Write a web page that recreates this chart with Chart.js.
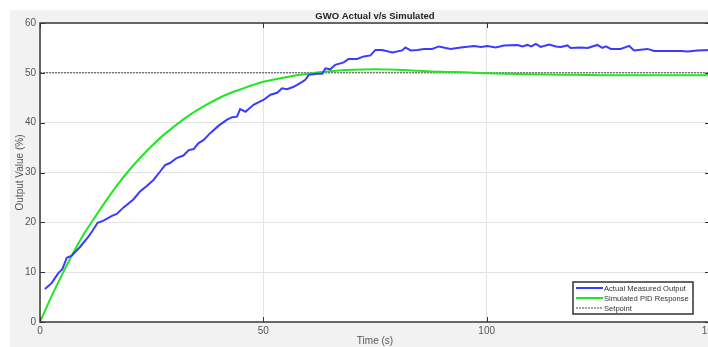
<!DOCTYPE html>
<html>
<head>
<meta charset="utf-8">
<script src="https://cdn.jsdelivr.net/npm/chart.js@4.4.1/dist/chart.umd.min.js"></script>
<style>
  html, body { margin: 0; padding: 0; background: #fff; overflow: hidden; }
  #wrap { position: relative; width: 710px; height: 347px; }
</style>
</head>
<body>
<div id="wrap"><canvas id="myChart"></canvas></div>
<script>
// valores
const tiempoReal = [1.1,2.6,4.1,5.0,6.0,7.1,9.0,10.8,11.9,12.9,
  14.1,16.1,17.2,18.7,20.9,22.4,23.9,25.4,26.9,28.0,
  29.1,30.6,32.1,33.3,34.4,35.5,36.6,38.1,40.0,41.9,
  43.0,44.1,44.8,46.0,47.8,50.1,51.6,53.1,54.2,55.3,
  56.8,58.7,59.4,60.2,62.0,63.2,63.9,65.0,66.1,68.0,
  69.1,71.0,72.5,74.0,75.1,76.6,78.9,81.1,81.8,83.0,
  84.5,86.0,87.8,89.3,91.9,94.2,97.2,98.7,100.2,102.0,
  103.9,106.9,108.0,109.1,110.0,111.0,112.1,114.0,115.5,116.6,
  118.1,118.8,121.1,122.6,124.8,125.9,126.7,127.8,130.0,131.9,
  133.0,136.0,137.5,140.5,143.5,145.0,147.2,150];
const salidaReal = [6.6,7.8,9.8,10.6,12.9,13.3,15.1,17.1,18.5,19.9,
  20.3,21.3,21.7,23.0,24.6,26.2,27.3,28.5,30.2,31.5,
  31.9,32.9,33.4,34.5,34.7,35.9,36.5,37.9,39.4,40.6,
  41.1,41.2,42.7,42.2,43.6,44.6,45.6,46.0,46.9,46.7,
  47.2,48.2,48.6,49.6,49.8,49.8,50.9,50.7,51.6,52.1,
  52.8,52.8,53.3,53.5,54.6,54.6,54.1,54.5,55.1,54.5,
  54.6,54.8,54.8,55.3,54.8,55.1,55.4,55.2,55.4,55.1,
  55.5,55.6,55.3,55.6,55.3,55.8,55.2,55.7,55.3,55.2,
  55.5,55.0,55.1,55.0,55.6,55.0,55.3,54.8,54.8,55.4,
  54.5,54.8,54.4,54.4,54.4,54.3,54.5,54.6];

const tiempoSim = [0,2.5,5,7.5,10,12.5,15,17.5,20,22.5,25,27.5,30,32.5,35,37.5,40,42.5,45,47.5,50,55,60,65,70,75,80,85,90,95,100,110,120,130,140,150];
const salidaSim = [0,5.0,9.6,14.0,17.9,21.3,24.6,27.7,30.5,33.0,35.3,37.4,39.2,40.9,42.4,43.7,44.9,45.9,46.7,47.5,48.2,49.1,49.8,50.3,50.6,50.7,50.6,50.4,50.2,50.1,49.9,49.7,49.6,49.5,49.5,49.5];

const tiempoSetpoint = [0, 150];
const setpoint = [50, 50];

const etiquetas = ['Actual Measured Output', 'Simulated PID Response', 'Setpoint'];
const tituloGrafico = 'GWO Actual v/s Simulated';

function pares(xs, ys) {
  return xs.map((x, i) => ({ x: x, y: ys[i] }));
}

// fondo gris, borde del area, marcas, titulo y leyenda
const decoracion = {
  id: 'decoracion',
  beforeDraw(chart) {
    const c = chart.ctx, a = chart.chartArea;
    c.save();
    c.fillStyle = '#fff';
    c.fillRect(0, 0, chart.width, chart.height);
    c.fillStyle = '#f2f2f2';
    c.fillRect(10, 10, chart.width - 10, chart.height - 10);
    c.fillStyle = '#fff';
    c.fillRect(a.left, a.top, a.right - a.left, a.bottom - a.top);
    c.restore();
  },
  afterDraw(chart) {
    const c = chart.ctx, a = chart.chartArea;
    const xs = chart.scales.x, ys = chart.scales.y;
    c.save();
    c.strokeStyle = '#333';
    c.lineWidth = 1;
    c.beginPath();
    xs.ticks.forEach(t => {
      const px = Math.round(xs.getPixelForValue(t.value)) + 0.5;
      c.moveTo(px, a.bottom); c.lineTo(px, a.bottom - 5);
      c.moveTo(px, a.top); c.lineTo(px, a.top + 5);
    });
    ys.ticks.forEach(t => {
      const py = Math.round(ys.getPixelForValue(t.value)) + 0.5;
      c.moveTo(a.left, py); c.lineTo(a.left + 5, py);
      c.moveTo(a.right, py); c.lineTo(a.right - 5, py);
    });
    c.stroke();
    c.lineWidth = 1.5;
    c.strokeStyle = '#3a3a3a';
    c.strokeRect(a.left, a.top, a.right - a.left, a.bottom - a.top);

    c.fillStyle = '#222';
    c.font = 'bold 9.5px "Liberation Sans", Arial, sans-serif';
    c.textAlign = 'center';
    c.textBaseline = 'middle';
    c.fillText(tituloGrafico, (a.left + a.right) / 2, 16);

    // leyenda dentro del area
    const lx = 573, ly = 282, lw = 120, lh = 32;
    c.fillStyle = '#fff';
    c.fillRect(lx, ly, lw, lh);
    c.strokeStyle = '#333';
    c.lineWidth = 1.5;
    c.strokeRect(lx, ly, lw, lh);
    c.font = '7.6px "Liberation Sans", Arial, sans-serif';
    c.textAlign = 'left';
    chart.data.datasets.forEach((ds, i) => {
      const yy = ly + 6 + i * 10;
      c.strokeStyle = ds.borderColor;
      c.lineWidth = ds.borderDash ? 1 : 2;
      c.setLineDash(ds.borderDash || []);
      c.beginPath();
      c.moveTo(lx + 3, yy); c.lineTo(lx + 30, yy);
      c.stroke();
      c.setLineDash([]);
      c.fillStyle = '#333';
      c.fillText(ds.label, lx + 31, yy + 0.5);
    });
    c.restore();
  }
};

const ctx = document.getElementById('myChart').getContext('2d');
const myChart = new Chart(ctx, {
  type: 'line',
  data: {
    datasets: [{
      label: etiquetas[0],
      data: pares(tiempoReal, salidaReal),
      borderColor: '#3b3bff',
      borderWidth: 2,
      pointRadius: 0,
      tension: 0
    }, {
      label: etiquetas[1],
      data: pares(tiempoSim, salidaSim),
      borderColor: '#22e622',
      borderWidth: 2,
      pointRadius: 0,
      cubicInterpolationMode: 'monotone'
    }, {
      label: etiquetas[2],
      data: pares(tiempoSetpoint, setpoint),
      borderColor: '#444',
      borderWidth: 1,
      borderDash: [2, 1],
      pointRadius: 0
    }]
  },
  options: {
    responsive: true,
    maintainAspectRatio: false,
    animation: false,
    layout: { padding: { left: 10, top: 23, right: 0, bottom: 0 } },
    plugins: {
      legend: { display: false },
      title: { display: false },
      tooltip: { enabled: false }
    },
    scales: {
      x: {
        type: 'linear',
        min: 0,
        max: 150,
        ticks: { stepSize: 50, color: '#555', padding: 3, font: { size: 10, family: '"Liberation Sans", Arial, sans-serif' } },
        grid: { color: '#e4e4e4', drawTicks: false },
        border: { display: false },
        title: { display: true, text: 'Time (s)', color: '#555', padding: { top: 0, bottom: 0 }, font: { size: 10, family: '"Liberation Sans", Arial, sans-serif' } },
        afterFit(scale) { scale.height = 25; scale.paddingRight = 0; scale.paddingLeft = 0; }
      },
      y: {
        min: 0,
        max: 60,
        ticks: { stepSize: 10, color: '#555', padding: 4, font: { size: 10, family: '"Liberation Sans", Arial, sans-serif' } },
        grid: { color: '#e4e4e4', drawTicks: false },
        border: { display: false },
        title: { display: true, text: 'Output Value (%)', color: '#555', padding: { top: 4, bottom: 0 }, font: { size: 10, family: '"Liberation Sans", Arial, sans-serif' } },
        afterFit(scale) { scale.width = 30; scale.paddingTop = 0; scale.paddingBottom = 0; }
      }
    }
  },
  plugins: [decoracion]
});
</script>
</body>
</html>
